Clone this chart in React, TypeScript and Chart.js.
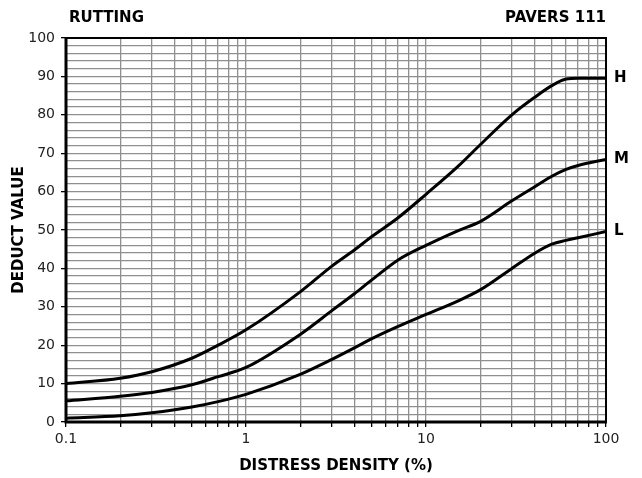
import React, { useEffect, useRef } from "react";
import { Chart, registerables } from "chart.js";

Chart.register(...registerables);

const densities = [0.1, 0.2, 0.3, 0.5, 0.7, 1, 2, 3, 4, 5, 7, 10, 15, 20, 30, 40, 50, 60, 70, 100];
const highValues = [10, 11.4, 13.1, 16.6, 20, 24, 33.9, 40.6, 44.8, 48.3, 53.2, 59.3, 66.5, 72.2, 80, 84.5, 87.6, 89.3, 89.5, 89.5];
const mediumValues = [5.5, 6.7, 7.7, 9.7, 11.8, 14.2, 22.8, 29, 33.4, 37, 42.2, 46, 49.8, 52.2, 57.6, 61.2, 64, 65.8, 66.8, 68.4];
const lowValues = [1, 1.6, 2.4, 3.9, 5.3, 7.2, 12.4, 16.3, 19.3, 21.7, 24.9, 28, 31.5, 34.4, 40, 43.9, 46.3, 47.3, 48, 49.6];
const severityLabels = ["H", "M", "L"];
const xTickLabels = [0.1, 1, 10, 100];
const yTickLabels = [0, 10, 20, 30, 40, 50, 60, 70, 80, 90, 100];

const FONT = "'DejaVu Sans', Verdana, sans-serif";

function buildLogTicks() {
  const out: { value: number }[] = [];
  for (let e = -1; e <= 1; e++) {
    for (let k = 1; k <= 9; k++) {
      out.push({ value: Number((k * Math.pow(10, e)).toPrecision(3)) });
    }
  }
  out.push({ value: 100 });
  return out;
}

const isLabeledX = (v: number) => xTickLabels.some((t) => Math.abs(t - v) < 1e-9);

const textPlugin = {
  id: "textPlugin",
  afterDraw(chart: any) {
    const { ctx, chartArea } = chart;
    ctx.save();
    ctx.strokeStyle = "#000";
    ctx.lineWidth = 2;
    ctx.strokeRect(chartArea.left, chartArea.top, chartArea.right - chartArea.left, chartArea.bottom - chartArea.top);
    ctx.lineWidth = 3;
    ctx.beginPath();
    ctx.moveTo(chartArea.left, chartArea.top - 1);
    ctx.lineTo(chartArea.left, chartArea.bottom);
    ctx.lineTo(chartArea.right + 1, chartArea.bottom);
    ctx.stroke();

    ctx.fillStyle = "#000";
    ctx.font = `bold 15px ${FONT}`;
    ctx.textBaseline = "middle";
    ctx.textAlign = "left";
    ctx.fillText("RUTTING", chartArea.left + 3, 18);
    ctx.textAlign = "right";
    ctx.fillText("PAVERS 111", chartArea.right, 18);

    ctx.font = `bold 15px ${FONT}`;
    ctx.textAlign = "left";
    chart.data.datasets.forEach((ds: any, i: number) => {
      const meta = chart.getDatasetMeta(i);
      const last = meta.data[meta.data.length - 1];
      ctx.fillText(severityLabels[i], chartArea.right + 8, last.y);
    });

    ctx.font = `bold 15px ${FONT}`;
    ctx.textAlign = "center";
    ctx.fillText("DISTRESS DENSITY (%)", (chartArea.left + chartArea.right) / 2, 466);
    ctx.translate(19, (chartArea.top + chartArea.bottom) / 2);
    ctx.rotate(-Math.PI / 2);
    ctx.fillText("DEDUCT VALUE", 0, 0);
    ctx.restore();
  },
};

export default function App() {
  const ref = useRef<HTMLCanvasElement>(null);
  useEffect(() => {
    document.body.style.margin = "0";
    const canvas = ref.current!;
    const mk = (vals: number[]) => densities.map((x, i) => ({ x, y: vals[i] }));
    const chart = new Chart(canvas, {
      type: "line",
      data: {
        datasets: [highValues, mediumValues, lowValues].map((vals, i) => ({
          label: severityLabels[i],
          data: mk(vals),
          borderColor: "#000",
          borderWidth: 3,
          pointRadius: 0,
          fill: false,
          cubicInterpolationMode: "monotone" as const,
        })),
      },
      options: {
        animation: false,
        responsive: false,
        maintainAspectRatio: false,
        layout: { padding: { top: 38, right: 36, left: 0, bottom: 0 } },
        plugins: { legend: { display: false }, tooltip: { enabled: false }, title: { display: false } },
        scales: {
          x: {
            type: "logarithmic",
            min: 0.1,
            max: 100,
            afterBuildTicks: (scale: any) => {
              scale.ticks = buildLogTicks();
            },
            afterFit: (scale: any) => {
              scale.height = 56;
            },
            ticks: {
              autoSkip: false,
              maxRotation: 0,
              padding: 4,
              color: "#222",
              font: { family: FONT, size: 14 },
              callback: (v: any) => (isLabeledX(Number(v)) ? String(Number(v)) : ""),
            },
            grid: { color: "#8f8f8f", lineWidth: 1.3, tickLength: 5, tickColor: "#000" },
            border: { display: false },
          },
          y: {
            type: "linear",
            min: 0,
            max: 100,
            afterFit: (scale: any) => {
              scale.width = 66;
            },
            ticks: {
              stepSize: 2,
              autoSkip: false,
              padding: 6,
              color: "#222",
              font: { family: FONT, size: 14 },
              callback: (v: any) => (yTickLabels.includes(Number(v)) ? String(v) : ""),
            },
            grid: {
              color: "#8f8f8f",
              lineWidth: 1.3,
              tickLength: 5,
              tickColor: (c: any) => (c.tick && yTickLabels.includes(c.tick.value) ? "#000" : "transparent"),
            },
            border: { display: false },
          },
        },
      },
      plugins: [textPlugin],
    });
    return () => chart.destroy();
  }, []);
  return <canvas ref={ref} width={642} height={478} style={{ display: "block" }} />;
}
